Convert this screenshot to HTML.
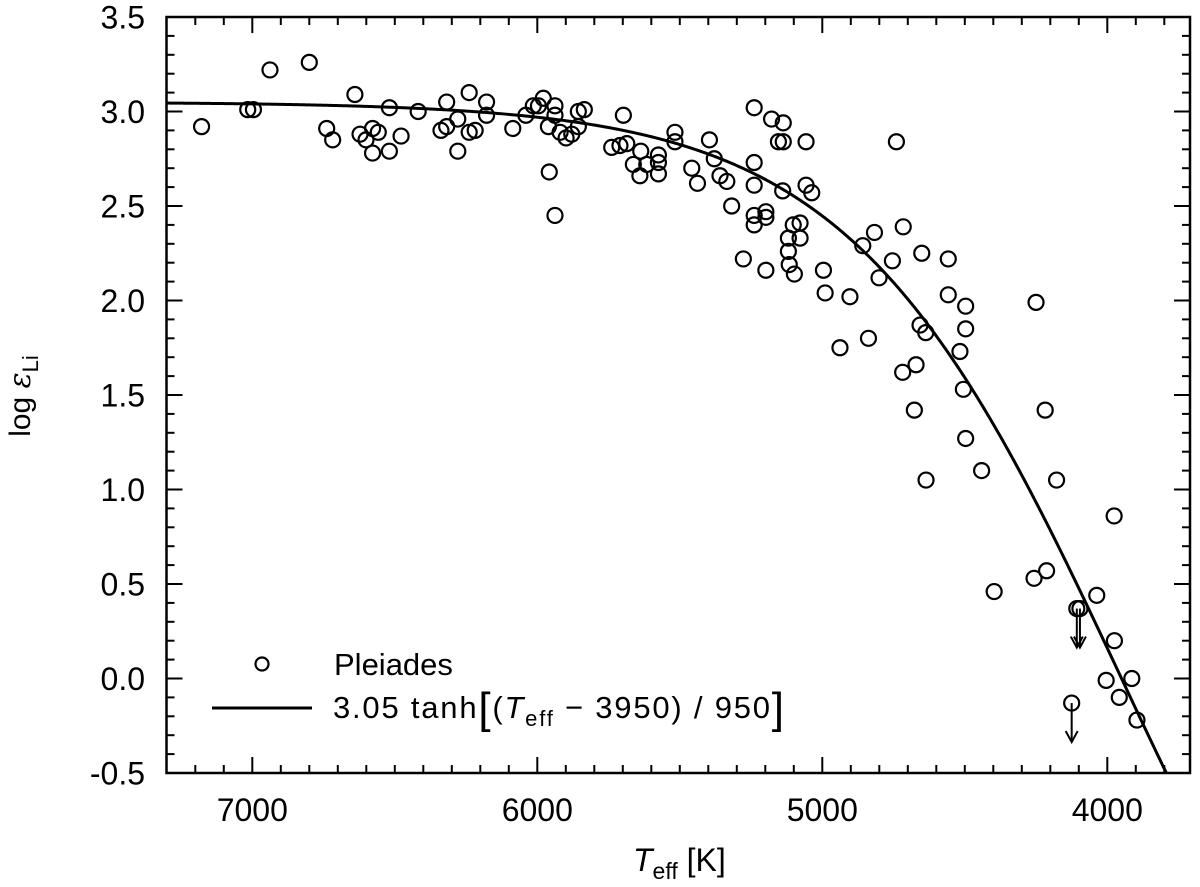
<!DOCTYPE html>
<html>
<head>
<meta charset="utf-8">
<style>
html,body{margin:0;padding:0;background:#fff;}
svg{display:block;font-family:"Liberation Sans",Arial,sans-serif;}
</style>
</head>
<body>
<svg id="chart" width="1200" height="887" viewBox="0 0 1200 887" xmlns="http://www.w3.org/2000/svg">
  <rect x="0" y="0" width="1200" height="887" fill="#fff"/>
  <g id="ticks"></g>
  <g id="curve-layer"></g>
  <g id="points"></g>
  <g id="limits"></g>
  <rect x="166.5" y="17" width="1023.5" height="756" fill="none" stroke="#000" stroke-width="2.5"/>
  <g id="ylabels"></g>
  <g id="xlabels"></g>
  <text x="633" y="871" font-size="32"><tspan font-style="italic">T</tspan><tspan font-size="23" dy="8">eff</tspan><tspan dy="-8"> [K]</tspan></text>
  <text transform="translate(30,396) rotate(-90)" text-anchor="middle" font-size="30">log <tspan font-family="'DejaVu Serif',serif" font-style="italic">ε</tspan><tspan font-size="22" dy="8">Li</tspan></text>
  <g>
    <circle cx="262" cy="664" r="6.5" fill="none" stroke="#000" stroke-width="2.2"/>
    <text x="334" y="675" font-size="31">Pleiades</text>
    <line x1="212" y1="708" x2="312" y2="708" stroke="#000" stroke-width="3"/>
    <text x="333" y="718" font-size="31" textLength="451" lengthAdjust="spacing">3.05 tanh<tspan font-size="44" dy="5">[</tspan><tspan dy="-5">(</tspan><tspan font-style="italic">T</tspan><tspan font-size="22" dy="8">eff</tspan><tspan dy="-8"> − 3950) / 950</tspan><tspan font-size="44" dy="5">]</tspan></text>
  </g>
</svg>
<script>
const temps = [7178,7016,6996,6938,6800,6640,6739,6718,6622,6601,6578,6558,6578,6519,6519,6478,6418,6338,6318,6318,6279,6279,6239,6239,6218,6178,6178,6086,
6040,6014,5996,5979,5938,5938,5961,5920,5899,5879,5856,5856,5835,5958,5938,5698,5739,5710,5686,5637,5663,5640,5616,5575,5575,5575,5517,5517,5396,5379,5458,5438,5359,5335,5318,5277,5239,5239,5239,5239,5239,5198,5198,5178,5137,5154,5137,5139,5057,5057,5037,5102,5078,5119,5078,5119,
5116,5098,5198,4996,4990,4903,4938,4838,4858,4817,4801,4754,4716,4651,4558,4558,4497,4497,4657,4637,4517,4671,4718,4505,4677,4497,4250,4218,4740,
4636,4441,4178,3976,4397,4257,4213,4037,3975,4004,3914,3958,3896];
const logLi = [2.92,3.01,3.01,3.22,3.26,3.09,2.91,2.85,2.88,2.85,2.91,2.89,2.78,3.02,2.79,2.87,3.00,2.90,2.92,3.05,2.96,2.79,3.10,2.89,2.90,3.05,2.98,2.91,
2.98,3.03,3.03,3.07,3.03,2.98,2.92,2.89,2.86,2.88,2.92,3.00,3.01,2.68,2.45,2.98,2.81,2.82,2.83,2.79,2.72,2.66,2.72,2.77,2.73,2.67,2.89,2.84,2.85,2.75,2.70,2.62,2.66,2.63,2.50,2.22,3.02,2.73,2.61,2.45,2.40,2.47,2.44,2.96,2.94,2.84,2.84,2.58,2.84,2.61,2.57,2.40,2.41,2.33,2.33,2.26,
2.19,2.14,2.16,2.16,2.04,2.02,1.75,1.80,2.29,2.36,2.12,2.21,2.39,2.25,2.22,2.03,1.97,1.85,1.87,1.83,1.73,1.66,1.62,1.53,1.42,1.27,1.99,1.42,2.84,
1.05,1.10,1.05,0.86,0.46,0.53,0.57,0.44,0.20,-0.01,0.00,-0.10,-0.22];
const limitTemps = [4107,4096,4125];
const limitLogLi = [0.37,0.37,-0.13];
const xTickValues = [7000,6000,5000,4000];
const xTickLabels = ["7000","6000","5000","4000"];
const yTickValues = [3.5,3.0,2.5,2.0,1.5,1.0,0.5,0.0,-0.5];
const yTickLabels = ["3.5","3.0","2.5","2.0","1.5","1.0","0.5","0.0","-0.5"];
const fitAmp = 3.05, fitT0 = 3950, fitScale = 950;

const NS = "http://www.w3.org/2000/svg";
const X0 = 252.3, PXK = 0.285, Y0 = 17, PXU = 189;
const TMIN = 3719, TMAX = 7298, VMIN = -0.5, VMAX = 3.5;
function xScale(t){ return X0 + (7000 - t) * PXK; }
function yScale(v){ return Y0 + (3.5 - v) * PXU; }
function mk(tag, attrs, parent){
  const el = document.createElementNS(NS, tag);
  for (const k in attrs) el.setAttribute(k, attrs[k]);
  parent.appendChild(el);
  return el;
}
const L = 166.5, R = 1190, T = 17, B = 773;
const ticks = document.getElementById('ticks');
for (let t = 3800; t <= 7200; t += 100) {
  const x = xScale(t);
  const major = t % 1000 === 0;
  const len = major ? 16 : 8;
  const a = mk('line', {x1:x, y1:B, x2:x, y2:B-len, stroke:'#000', 'stroke-width':2}, ticks);
  
  
  const b = mk('line', {x1:x, y1:T, x2:x, y2:T+len, stroke:'#000', 'stroke-width':2}, ticks);
  
  
}
for (let i = -5; i <= 35; i++) {
  const v = i / 10;
  const y = yScale(v);
  const major = i % 5 === 0;
  const len = major ? 16 : 8;
  const a = mk('line', {x1:L, y1:y, x2:L+len, y2:y, stroke:'#000', 'stroke-width':2}, ticks);
  
  
  const b = mk('line', {x1:R, y1:y, x2:R-len, y2:y, stroke:'#000', 'stroke-width':2}, ticks);
  
  
}
const xl = document.getElementById('xlabels');
xTickValues.forEach((v, i) => {
  const t = mk('text', {x:xScale(v), y:821, 'text-anchor':'middle', 'font-size':32}, xl);
  t.textContent = xTickLabels[i];
  
  
});
const yl = document.getElementById('ylabels');
yTickValues.forEach((v, i) => {
  const t = mk('text', {x:145, y:yScale(v)+11.5, 'text-anchor':'end', 'font-size':32}, yl);
  t.textContent = yTickLabels[i];
  
  
});
const cl = document.getElementById('curve-layer');
let d = '';
for (let t = TMAX; t >= TMIN; t -= 5) {
  const v = fitAmp * Math.tanh((t - fitT0) / fitScale);
  if (v < VMIN) break;
  d += (d ? 'L' : 'M') + xScale(t).toFixed(2) + ',' + yScale(v).toFixed(2);
}
const tEnd = fitT0 + fitScale * Math.atanh(VMIN / fitAmp);
d += 'L' + xScale(tEnd).toFixed(2) + ',' + yScale(VMIN).toFixed(2);
const path = mk('path', {d:d, fill:'none', stroke:'#000', 'stroke-width':3}, cl);


const pg = document.getElementById('points');
temps.forEach((t, i) => {
  const c = mk('circle', {cx:xScale(t), cy:yScale(logLi[i]), r:7.5, fill:'none', stroke:'#000', 'stroke-width':2.2}, pg);
  
  
});
const lg = document.getElementById('limits');
limitTemps.forEach((t, i) => {
  const x = xScale(t), y = yScale(limitLogLi[i]);
  const c = mk('circle', {cx:x, cy:y, r:7.5, fill:'none', stroke:'#000', 'stroke-width':2.2}, lg);
  
  
  const ln = mk('line', {x1:x, y1:y, x2:x, y2:y+38, stroke:'#000', 'stroke-width':2}, lg);
  
  
  const hd = mk('path', {d:`M${x-6},${y+28} L${x},${y+39} L${x+6},${y+28}`, fill:'none', stroke:'#000', 'stroke-width':2}, lg);
  
  
});
</script>
</body>
</html>
